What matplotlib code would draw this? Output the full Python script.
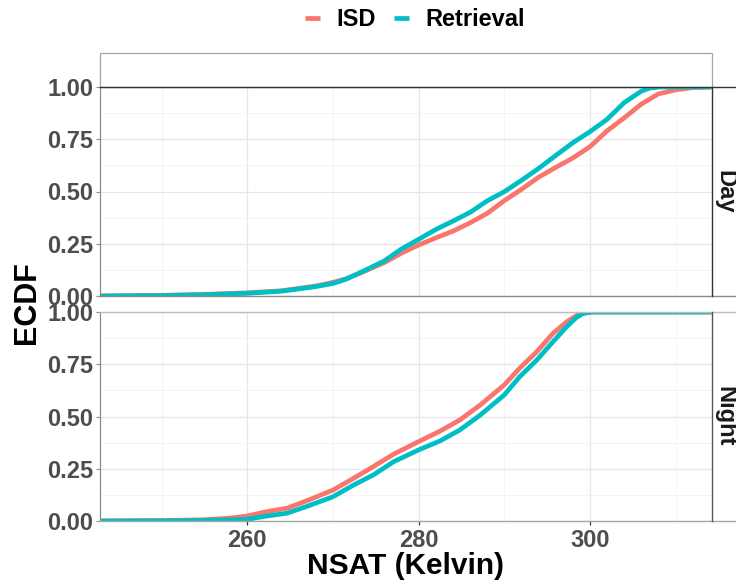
import matplotlib
matplotlib.use("Agg")
import matplotlib.pyplot as plt
from matplotlib.lines import Line2D
from matplotlib.patches import Rectangle
import numpy as np

plt.rcParams['font.family'] = ['Liberation Sans', 'DejaVu Sans']

# ---------------- data ----------------
series_names = ["ISD", "Retrieval"]
series_colors = ["#F8766D", "#00BFC4"]
panel_names = ["Day", "Night"]
strip_title = "AIRS"

day_isd_T = [242.8, 250, 255, 260, 264, 268, 270, 271.5, 273.5, 276, 278, 280, 282, 284, 286, 288,
             290, 292, 294, 296, 298, 300, 302, 304, 306, 308, 310, 312, 314.2]
day_isd_F = [0.0, 0.003, 0.008, 0.015, 0.025, 0.048, 0.065, 0.082, 0.115, 0.16, 0.205, 0.244, 0.278,
             0.31, 0.35, 0.395, 0.456, 0.51, 0.568, 0.615, 0.66, 0.714, 0.79, 0.852, 0.918, 0.967,
             0.986, 0.997, 1.0]

day_ret_T = [242.8, 250, 255, 260, 264, 268, 270, 271.5, 273.5, 276, 278, 280, 282, 284, 286, 288,
             290, 292, 294, 296, 298, 300, 302, 304, 306, 307, 308.2, 314.2]
day_ret_F = [0.0, 0.002, 0.006, 0.013, 0.023, 0.045, 0.06, 0.08, 0.118, 0.168, 0.225, 0.271, 0.318,
             0.358, 0.40, 0.455, 0.499, 0.553, 0.61, 0.672, 0.733, 0.786, 0.845, 0.925, 0.98, 0.995,
             1.0, 1.0]

night_isd_T = [242.8, 250, 255, 258, 260, 262.3, 264.6, 266.9, 270, 272.4, 274.7, 277.1, 280, 282.5,
               284.8, 287.2, 290, 291.8, 293.8, 295.7, 297.3, 298.4, 299.2, 300.5, 314.2]
night_isd_F = [0.0, 0.002, 0.006, 0.014, 0.024, 0.045, 0.061, 0.096, 0.148, 0.204, 0.26, 0.32, 0.38,
               0.43, 0.483, 0.555, 0.651, 0.731, 0.81, 0.898, 0.953, 0.982, 0.995, 1.0, 1.0]

night_ret_T = [242.8, 250, 255, 258, 260, 262.3, 264.6, 266.9, 270, 272.4, 274.7, 277.1, 280, 282.5,
               284.8, 287.2, 290, 291.8, 293.8, 295.7, 297.3, 298.4, 299.2, 300.2, 314.2]
night_ret_F = [0.0, 0.001, 0.003, 0.005, 0.008, 0.024, 0.037, 0.069, 0.116, 0.172, 0.22, 0.284, 0.34,
               0.383, 0.435, 0.507, 0.603, 0.69, 0.77, 0.858, 0.93, 0.973, 0.993, 1.0, 1.0]

x_ticks = [260, 280, 300]
y_ticks = [0.0, 0.25, 0.5, 0.75, 1.0]
y_ticklabels = ["0.00", "0.25", "0.50", "0.75", "1.00"]

# ---------------- figure ----------------
W, H = 736, 584
fig = plt.figure(figsize=(W / 100, H / 100), dpi=100)


def fx(px):
    return px / W


def fy(py):
    return 1 - py / H


left, right = 100, 711.5
panels = [(87, 296), (312, 521)]
data = [
    [(day_isd_T, day_isd_F), (day_ret_T, day_ret_F)],
    [(night_isd_T, night_isd_F), (night_ret_T, night_ret_F)],
]

FS = 17
tick_col = "#4D4D4D"
axes = []
for i, (top, bot) in enumerate(panels):
    ax = fig.add_axes([fx(left), fy(bot), fx(right) - fx(left), fy(top) - fy(bot)])
    axes.append(ax)
    ax.set_xlim(242.8, 314.2)
    ax.set_ylim(0, 1)
    ax.set_xticks(x_ticks)
    ax.set_xticks([250, 270, 290, 310], minor=True)
    ax.set_yticks(y_ticks)
    ax.set_yticks([0.125, 0.375, 0.625, 0.875], minor=True)
    ax.set_yticklabels(y_ticklabels)
    ax.grid(True, which='major', color='#E6E6E6', linewidth=0.9)
    ax.grid(True, which='minor', color='#F2F2F2', linewidth=0.6)
    ax.set_axisbelow(True)
    for (T, F), c in zip(data[i], series_colors):
        ax.plot(T, F, color=c, linewidth=3.4, solid_capstyle='butt', solid_joinstyle='round')
    for s in ax.spines.values():
        s.set_visible(False)
    ax.spines['left'].set_visible(True)
    ax.spines['left'].set_color('#8C8C8C')
    ax.spines['left'].set_linewidth(0.9)
    ax.tick_params(axis='y', which='major', length=3, width=0.8, color='#8C8C8C', pad=2,
                   labelsize=FS, labelcolor=tick_col)
    ax.tick_params(which='minor', length=0)
    for lab in ax.get_yticklabels():
        lab.set_fontweight('bold')
    if i == 0:
        ax.tick_params(axis='x', which='major', length=0, labelbottom=False)
    else:
        ax.tick_params(axis='x', which='major', length=3, width=0.9, color='#333333', pad=3,
                       labelsize=FS, labelcolor=tick_col)
        for lab in ax.get_xticklabels():
            lab.set_fontweight('bold')

# panel frame lines (extended to the right edge as in the reference)
def hline(py, color, lw=1.0):
    fig.add_artist(Line2D([fx(left), 1.0], [fy(py), fy(py)], transform=fig.transFigure,
                          color=color, linewidth=lw, zorder=5))


def vline(px, py0, py1, color, lw=1.0):
    fig.add_artist(Line2D([fx(px), fx(px)], [fy(py0), fy(py1)], transform=fig.transFigure,
                          color=color, linewidth=lw, zorder=5))


hline(87, '#333333')
hline(296, '#8C8C8C')
hline(312, '#BDBDBD')
hline(521, '#A6A6A6')
vline(right, 87, 296, '#333333')
vline(right, 312, 521, '#555555')

# top strip
fig.add_artist(Rectangle((fx(left), fy(87)), fx(right) - fx(left), fy(53) - fy(87),
                         transform=fig.transFigure, facecolor='white', edgecolor='#A6A6A6',
                         linewidth=0.9, zorder=4))
fig.text(fx((left + right) / 2), fy(71), strip_title, ha='center', va='center',
         fontsize=FS, fontweight='bold', color='#1A1A1A')

# right strips
for name, (top, bot) in zip(panel_names, panels):
    fig.text(fx(725), fy((top + bot) / 2), name, ha='center', va='center', rotation=270,
             fontsize=FS, fontweight='bold', color='#1A1A1A')

# axis titles
fig.text(fx(406), fy(566), "NSAT (Kelvin)", ha='center', va='center', fontsize=21.5,
         fontweight='bold', color='black')
fig.text(fx(27), fy(303), "ECDF", ha='center', va='center', rotation=90, fontsize=22,
         fontweight='bold', color='black')

# legend
handles = [Line2D([0], [0], color=c, linewidth=3.4, solid_capstyle='butt') for c in series_colors]
leg = fig.legend(handles, series_names, loc='center', bbox_to_anchor=(fx(415), fy(19.5)),
                 ncol=2, frameon=False, handlelength=0.6, handletextpad=0.7,
                 columnspacing=0.8, prop={'size': FS, 'weight': 'bold'})

fig.savefig("out.png", dpi=100)
